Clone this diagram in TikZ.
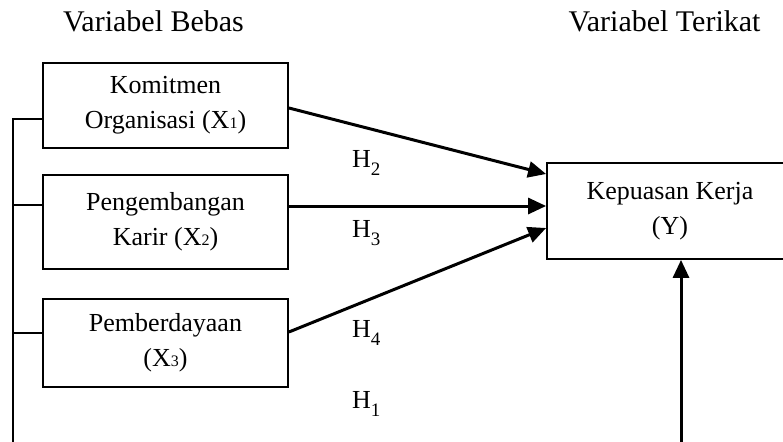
\documentclass[tikz,border=0pt]{standalone}
\usepackage{fontspec}
\setmainfont{Liberation Serif}
\usetikzlibrary{arrows.meta}
% small digits sitting on the baseline, as in X1, X2, X3
\newcommand{\smalldigit}[1]{{\fontsize{16}{16}\selectfont #1}}
% lowered index for the hypothesis labels
\newcommand{\lowidx}[1]{\raisebox{-8pt}{\fontsize{19}{19}\selectfont #1}}
\tikzset{
  varbox/.style={draw, line width=1.8pt, minimum width=245pt, inner sep=0pt,
    align=center, font=\fontsize{26}{35}\selectfont},
  toptitle/.style={anchor=base, font=\fontsize{30}{32}\selectfont},
  hlabel/.style={anchor=base west, inner sep=0pt, font=\fontsize{26}{30}\selectfont},
  arr/.style={line width=3pt, -{Triangle[length=18pt,width=16pt]}},
  feed/.style={line width=1.7pt}
}
\begin{document}
\begin{tikzpicture}[x=1pt, y=-1pt]
\useasboundingbox (0,0) rectangle (783,441);
\clip (0,0) rectangle (783,441);
\fill[white] (0,0) rectangle (783,441);

% column titles
\node[toptitle] (tb) at (153.5,32) {Variabel Bebas};
\node[toptitle] (tt) at (664.5,32) {Variabel Terikat};

% independent variables
\node[varbox, minimum height=85pt] (x1) at (165.5,105.5) {Komitmen\\Organisasi (X\smalldigit{1})};
\node[varbox, minimum height=94pt] (x2) at (165.5,222) {Pengembangan\\Karir (X\smalldigit{2})};
\node[varbox, minimum height=88pt] (x3) at (165.5,343) {Pemberdayaan\\(X\smalldigit{3})};

% dependent variable (runs past the right edge)
\node[varbox, minimum width=246pt, minimum height=96pt] (y) at (670,211) {Kepuasan Kerja\\(Y)};

% partial effects
\draw[arr] ([yshift=-2.5pt]x1.east) -- ([yshift=37pt]y.west);
\draw[arr] ([yshift=16pt]x2.east) -- ([yshift=5pt]y.west);
\draw[arr] ([yshift=11pt]x3.east) -- ([yshift=-17pt]y.west);

% hypothesis labels
\node[hlabel] (h2) at (352,167) {H\lowidx{2}};
\node[hlabel] (h3) at (352,237) {H\lowidx{3}};
\node[hlabel] (h4) at (352,337) {H\lowidx{4}};
\node[hlabel] (h1) at (352,408) {H\lowidx{1}};

% simultaneous effect: bracket on the left and return path into Y
\coordinate (lt) at (13,119);
\coordinate (lb) at (13,450);
\coordinate (vb) at (681,450);
\draw[feed] (lb) -- (lt) -- ([yshift=-13.5pt]x1.west);
\draw[feed] (13,205) -- ([yshift=17pt]x2.west);
\draw[feed] (13,333) -- ([yshift=10pt]x3.west);
\draw[arr] (vb) -- ([xshift=11pt]y.south);
\end{tikzpicture}
\end{document}
